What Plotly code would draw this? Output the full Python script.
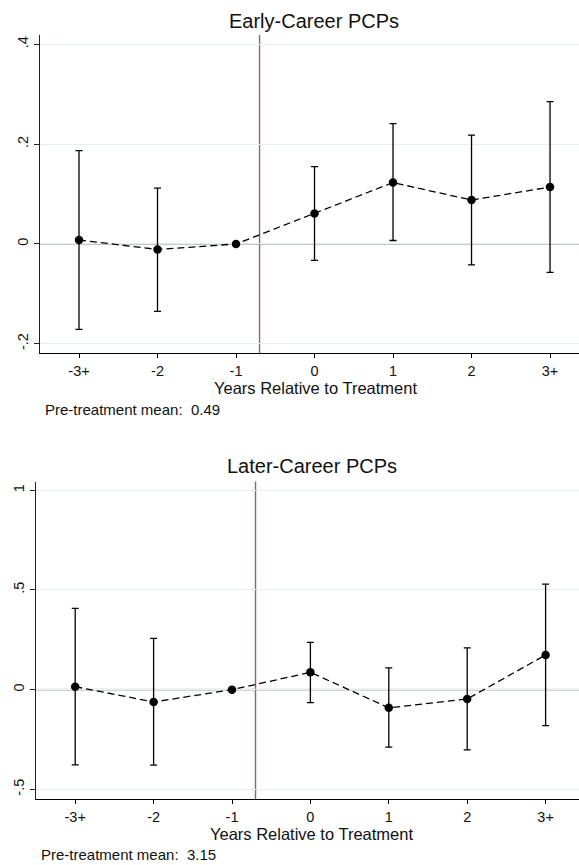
import plotly.graph_objects as go

# Event-study estimates, by years relative to treatment
periods = [-3, -2, -1, 0, 1, 2, 3]
period_labels = ["-3+", "-2", "-1", "0", "1", "2", "3+"]

early_coef = [0.008, -0.011, 0.0, 0.061, 0.123, 0.088, 0.114]
early_lo = [-0.171, -0.135, None, -0.033, 0.007, -0.042, -0.057]
early_hi = [0.187, 0.112, None, 0.155, 0.241, 0.218, 0.285]

later_coef = [0.015, -0.062, 0.0, 0.087, -0.091, -0.047, 0.174]
later_lo = [-0.377, -0.379, None, -0.065, -0.288, -0.302, -0.180]
later_hi = [0.408, 0.257, None, 0.237, 0.109, 0.210, 0.529]

early_ticks = [-0.2, 0, 0.2, 0.4]
early_ticktext = ["-.2", "0", ".2", ".4"]
later_ticks = [-0.5, 0, 0.5, 1]
later_ticktext = ["-.5", "0", ".5", "1"]

treatment_line = -0.7
early_mean = "0.49"
later_mean = "3.15"

W, H = 579, 865
FONT = "Liberation Sans, Arial, Helvetica, sans-serif"
GRID = "#e6eff1"
REF_GRAY = "#c6c6c6"
RED = "#ab5a5e"


def px(x):
    return x / W


def py(y):
    return 1 - y / H


def err(coef, lo, hi):
    up = [None if h is None else h - c for c, h in zip(coef, hi)]
    dn = [None if l is None else c - l for c, l in zip(coef, lo)]
    return up, dn


fig = go.Figure()

for coef, lo, hi, xa, ya in [
    (early_coef, early_lo, early_hi, "x", "y"),
    (later_coef, later_lo, later_hi, "x2", "y2"),
]:
    up, dn = err(coef, lo, hi)
    fig.add_trace(go.Scatter(
        x=periods, y=coef, mode="lines+markers",
        line=dict(color="black", width=1.3, dash="7px,4px"),
        marker=dict(size=8.5, color="black"),
        error_y=dict(type="data", symmetric=False, array=up, arrayminus=dn,
                     color="black", thickness=1.3, width=3.5),
        xaxis=xa, yaxis=ya, showlegend=False, hoverinfo="skip",
    ))

xcommon = dict(
    tickmode="array", tickvals=periods, ticktext=period_labels,
    showgrid=False, zeroline=False, showline=True, linecolor="black",
    linewidth=1.2, ticks="outside", ticklen=4, tickcolor="black",
    tickfont=dict(family=FONT, size=14.5, color="#111"),
)
ycommon = dict(
    tickmode="array", showgrid=True, gridcolor=GRID, gridwidth=1,
    zeroline=False, showline=True, linecolor="#222", linewidth=1.2,
    ticks="outside", ticklen=5, tickcolor="#222", tickangle=-90,
    tickfont=dict(family=FONT, size=14.5, color="#111"),
)

fig.update_layout(
    width=W, height=H, margin=dict(l=0, r=0, t=0, b=0),
    paper_bgcolor="white", plot_bgcolor="white",
    xaxis=dict(domain=[px(40.3), 1], range=[-3.493, 3.369], anchor="y", **xcommon),
    yaxis=dict(domain=[py(353.3), py(35)], range=[-0.219, 0.4186], anchor="x",
               tickvals=early_ticks, ticktext=early_ticktext, **ycommon),
    xaxis2=dict(domain=[px(36), 1], range=[-3.50, 3.426], anchor="y2", **xcommon),
    yaxis2=dict(domain=[py(799.3), py(481.5)], range=[-0.55, 1.044], anchor="x2",
                tickvals=later_ticks, ticktext=later_ticktext, **ycommon),
)

shapes = []
for xa, ya in [("x", "y"), ("x2", "y2")]:
    # reference line at zero
    shapes.append(dict(type="line", xref=f"{xa} domain", yref=ya, x0=0, x1=1, y0=0, y1=0,
                       line=dict(color=REF_GRAY, width=2), layer="below"))
    # treatment timing
    shapes.append(dict(type="line", xref=xa, yref=f"{ya} domain", x0=treatment_line,
                       x1=treatment_line, y0=0, y1=1,
                       line=dict(color=RED, width=1.4), layer="below"))
fig.update_layout(shapes=shapes)

annotations = [
    dict(text="Early-Career PCPs", x=px(314), y=py(21), size=20),
    dict(text="Later-Career PCPs", x=px(312), y=py(466), size=20),
    dict(text="Years Relative to Treatment", x=px(315), y=py(388), size=16.5),
    dict(text="Years Relative to Treatment", x=px(311.3), y=py(834), size=16.5),
]
ann = []
for a in annotations:
    ann.append(dict(text=a["text"], x=a["x"], y=a["y"], xref="paper", yref="paper",
                    xanchor="center", yanchor="middle", showarrow=False,
                    font=dict(family=FONT, size=a["size"], color="#111")))
for txt, x, y in [(f"Pre-treatment mean:  {early_mean}", 43.3, 409),
                  (f"Pre-treatment mean:  {later_mean}", 39.3, 854)]:
    ann.append(dict(text=txt, x=px(x), y=py(y), xref="paper", yref="paper",
                    xanchor="left", yanchor="middle", showarrow=False,
                    font=dict(family=FONT, size=15, color="#111")))
fig.update_layout(annotations=ann)

fig.write_html("out.html")
